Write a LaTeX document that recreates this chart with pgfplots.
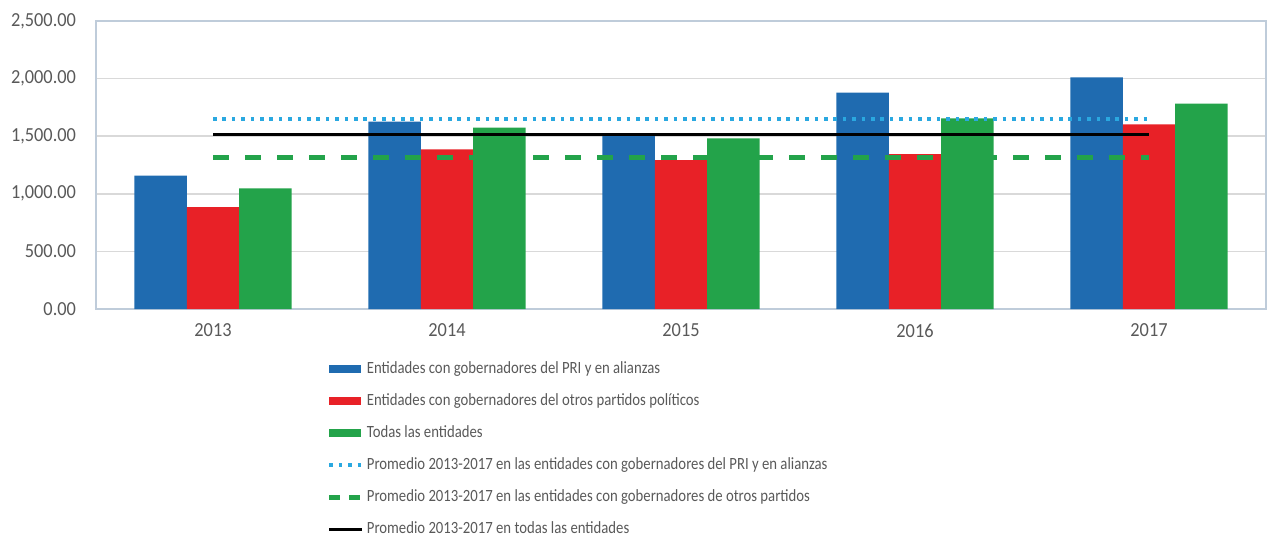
\documentclass[border=0pt]{standalone}
\usepackage{pgfplots}
\pgfplotsset{compat=1.18}
\usepackage{fontspec}
\setmainfont{Carlito}[FakeStretch=0.92]
\newfontfamily\legfont{Carlito}[FakeStretch=0.86]
\definecolor{cblue}{HTML}{1F6BB0}
\definecolor{cred}{HTML}{E82127}
\definecolor{cgreen}{HTML}{23A34A}
\definecolor{ccyan}{HTML}{2AA8E0}
\definecolor{cgrid}{HTML}{D9D9D9}
\definecolor{cframe}{HTML}{BFCCDA}
\definecolor{ctext}{HTML}{595959}
\pgfplotsset{
  mybarleg/.style={legend image code/.code={\fill[##1] (0bp,-2.1bp) rectangle (16bp,2.1bp);}},
  mylineleg/.style={legend image code/.code={\draw[##1] (0bp,0bp) -- (16.5bp,0bp);}},
  mydashleg/.style={legend image code/.code={\draw[##1, dash pattern=on 5.5bp off 4.5bp] (0bp,0bp) -- (16.5bp,0bp);}},
}
\begin{document}
\begin{tikzpicture}
\begin{axis}[
  name=ax, at={(0,0)}, anchor=south west,
  scale only axis, width=585bp, height=144bp,
  xmin=-0.5, xmax=4.5, ymin=0, ymax=2500,
  xtick={0,1,2,3,4}, xticklabels={2013,2014,2015,2016,2017},
  ytick={0,500,1000,1500,2000,2500},
  /pgf/number format/assume math mode=true,
  yticklabel style={/pgf/number format/fixed, /pgf/number format/fixed zerofill,
    /pgf/number format/precision=2, /pgf/number format/1000 sep={,}},
  ymajorgrids, grid style={cgrid, line width=0.75bp},
  major tick length=0pt,
  axis line style={cframe, line width=0.75bp},
  tick label style={font=\fontsize{10}{11}\selectfont, text=ctext},
  y tick label style={xshift=-6.5bp},
  x tick label style={yshift=-4bp},
  legend cell align=left,
  legend style={at={(0.197,-0.175)}, anchor=north west, draw=none, fill=none,
    font=\legfont\fontsize{8.6}{10}\selectfont, text=ctext, row sep=6.55bp, inner sep=0pt,
    nodes={inner sep=1bp}},
]
\addplot[ybar, fill=cblue, draw=none, bar width=0.224, bar shift=-0.224, mybarleg]
  coordinates {(0,1157) (1,1626) (2,1513) (3,1878) (4,2011)};
\addlegendentry{Entidades con gobernadores del PRI y en alianzas}
\addplot[ybar, fill=cred, draw=none, bar width=0.224, bar shift=0, mybarleg]
  coordinates {(0,885) (1,1386) (2,1293) (3,1345) (4,1603)};
\addlegendentry{Entidades con gobernadores del otros partidos políticos}
\addplot[ybar, fill=cgreen, draw=none, bar width=0.224, bar shift=0.224, mybarleg]
  coordinates {(0,1048) (1,1574) (2,1481) (3,1655) (4,1782)};
\addlegendentry{Todas las entidades}
\addplot[ccyan, line width=1.8bp, dash pattern=on 1.8bp off 2.9bp, mylineleg]
  coordinates {(0,1647) (4,1647)};
\addlegendentry{Promedio 2013-2017 en las entidades con gobernadores del PRI y en alianzas}
\addplot[cgreen, line width=2.5bp, dash pattern=on 8bp off 8bp, mydashleg]
  coordinates {(0,1317) (4,1317)};
\addlegendentry{Promedio 2013-2017 en las entidades con gobernadores de otros partidos}
\addplot[black, line width=1.6bp, mylineleg]
  coordinates {(0,1513) (4,1513)};
\addlegendentry{Promedio 2013-2017 en todas las entidades}
\end{axis}
\pgfresetboundingbox
\path[use as bounding box] ([shift={(-48bp,-114.5bp)}]ax.south west) rectangle ([shift={(1.5bp,10.5bp)}]ax.north east);
\end{tikzpicture}
\end{document}
